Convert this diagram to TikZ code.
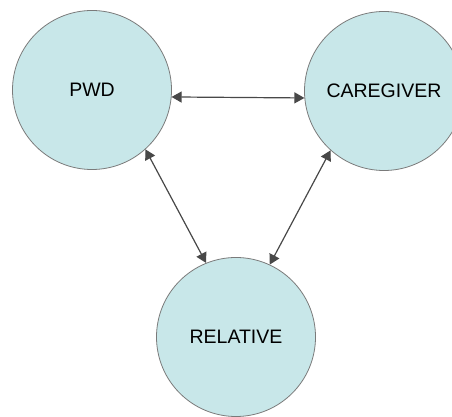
\documentclass[tikz,border=0pt]{standalone}
\usepackage{fontspec}
\setmainfont{Liberation Sans}
\usetikzlibrary{arrows.meta}
\definecolor{bubble}{HTML}{C8E7E9}
\definecolor{rim}{HTML}{7A7A7A}
\definecolor{link}{HTML}{484848}
\tikzset{
  party/.style={circle,draw=rim,fill=bubble,line width=0.8pt,minimum size=159pt,inner sep=0pt,font=\fontsize{19.5}{23}\selectfont},
  tie/.style={draw=link,line width=1.2pt,{Triangle[length=10pt,width=11pt]}-{Triangle[length=10pt,width=11pt]}}
}
\begin{document}
\begin{tikzpicture}[x=1pt,y=1pt]
\useasboundingbox (0,0) rectangle (452,417);
\clip (0,0) rectangle (452,417);
\node[party] (pwd) at (92,327) {PWD};
\node[party] (care) at (384,326) {CAREGIVER};
\node[party] (rel) at (236,80) {RELATIVE};
\draw[tie] (pwd.-5) -- (care.185);
\draw[tie] (pwd.-48.5) -- (rel.112.7);
\draw[tie] (care.228.5) -- (rel.65.4);
\end{tikzpicture}
\end{document}
